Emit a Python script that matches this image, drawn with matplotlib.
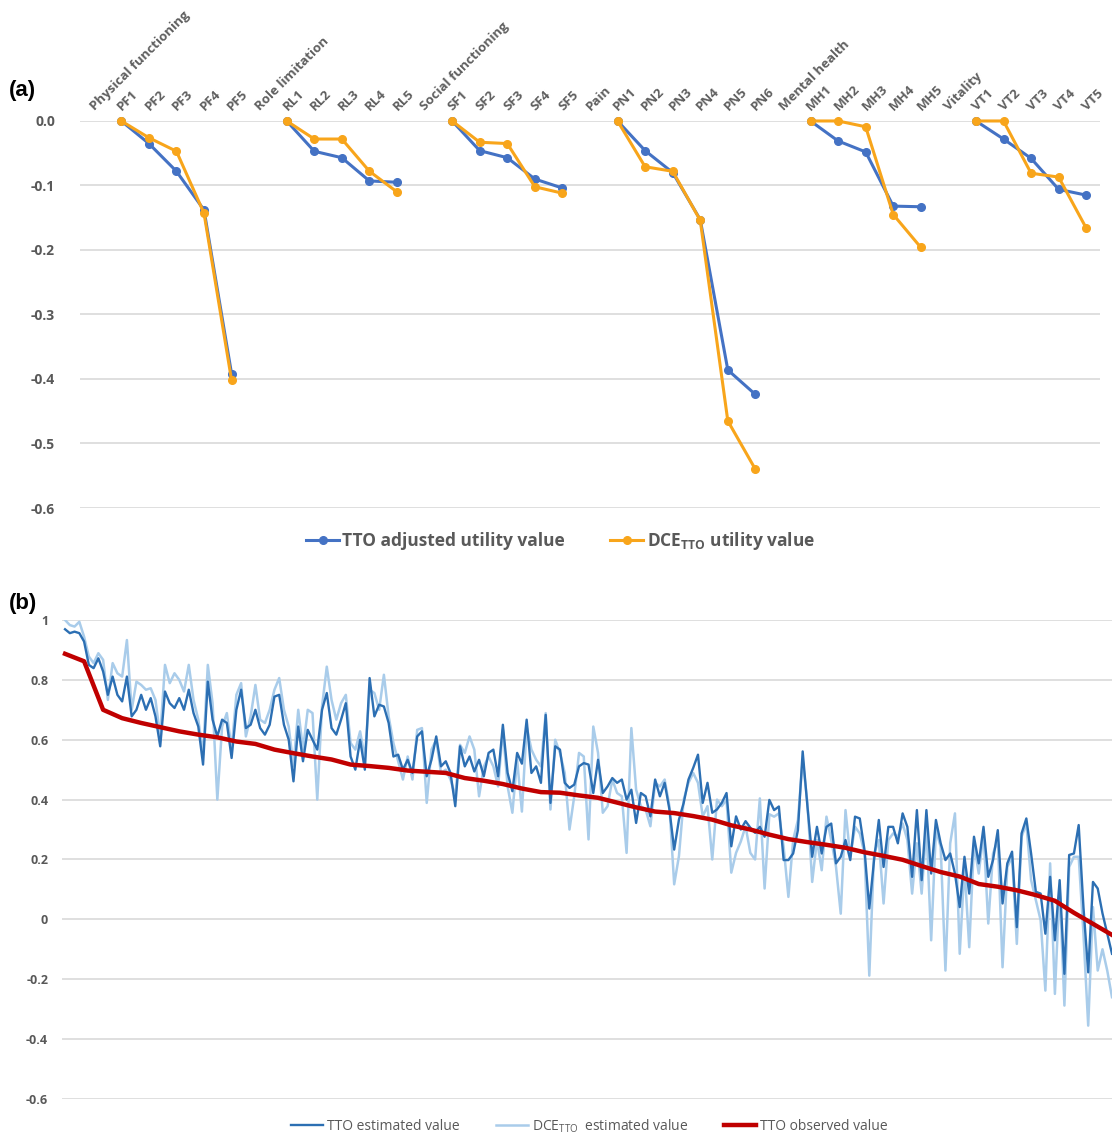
import numpy as np
import matplotlib.pyplot as plt

plt.rcParams['font.family'] = ['Open Sans', 'DejaVu Sans']
plt.rcParams['mathtext.fontset'] = 'custom'
plt.rcParams['mathtext.rm'] = 'Open Sans'
plt.rcParams['mathtext.bf'] = 'Open Sans:bold'

nan = np.nan

# ---- panel (a): utility decrements by dimension level
categories = ["Physical functioning", "PF1", "PF2", "PF3", "PF4", "PF5",
              "Role limitation", "RL1", "RL2", "RL3", "RL4", "RL5",
              "Social functioning", "SF1", "SF2", "SF3", "SF4", "SF5",
              "Pain", "PN1", "PN2", "PN3", "PN4", "PN5", "PN6",
              "Mental health", "MH1", "MH2", "MH3", "MH4", "MH5",
              "Vitality", "VT1", "VT2", "VT3", "VT4", "VT5"]
tto_adjusted = [nan, 0, -0.035, -0.078, -0.138, -0.392,
                nan, 0, -0.047, -0.057, -0.093, -0.095,
                nan, 0, -0.046, -0.057, -0.090, -0.104,
                nan, 0, -0.046, -0.080, -0.153, -0.386, -0.424,
                nan, 0, -0.031, -0.048, -0.132, -0.133,
                nan, 0, -0.028, -0.058, -0.106, -0.115]
dce_tto = [nan, 0, -0.026, -0.047, -0.143, -0.402,
           nan, 0, -0.028, -0.028, -0.078, -0.110,
           nan, 0, -0.033, -0.035, -0.102, -0.112,
           nan, 0, -0.071, -0.078, -0.154, -0.465, -0.540,
           nan, 0, 0, -0.009, -0.145, -0.196,
           nan, 0, 0, -0.081, -0.087, -0.166]
a_ticks = [0.0, -0.1, -0.2, -0.3, -0.4, -0.5, -0.6]

# ---- panel (b): estimated vs observed TTO per health state (sorted by observed)
tto_estimated = [
    0.969, 0.956, 0.961, 0.956, 0.928, 0.85, 0.839, 0.872, 0.828, 0.75,
    0.811, 0.75, 0.728, 0.811, 0.678, 0.70, 0.75, 0.70, 0.739, 0.678,
    0.578, 0.761, 0.722, 0.706, 0.739, 0.70, 0.767, 0.689, 0.644, 0.517,
    0.794, 0.667, 0.611, 0.667, 0.656, 0.539, 0.70, 0.767, 0.639, 0.65,
    0.70, 0.639, 0.617, 0.65, 0.744, 0.75, 0.65, 0.60, 0.461, 0.644,
    0.528, 0.633, 0.60, 0.567, 0.70, 0.756, 0.639, 0.617, 0.667, 0.722,
    0.544, 0.50, 0.60, 0.50, 0.806, 0.678, 0.717, 0.711, 0.656, 0.544,
    0.55, 0.50,
    0.533, 0.489, 0.611, 0.628, 0.478, 0.533, 0.611, 0.511, 0.528, 0.489,
    0.378, 0.578, 0.511, 0.544, 0.494, 0.533, 0.478, 0.556, 0.567, 0.478,
    0.65, 0.489, 0.428, 0.556, 0.52, 0.667, 0.489, 0.511, 0.456, 0.683,
    0.389, 0.578, 0.567, 0.456, 0.439, 0.45, 0.511, 0.522, 0.517, 0.422,
    0.533, 0.422, 0.444, 0.472, 0.456, 0.467, 0.40, 0.433, 0.322, 0.422,
    0.411, 0.344, 0.467, 0.411, 0.456, 0.367, 0.233, 0.333, 0.389, 0.467,
    0.506, 0.55, 0.389, 0.456, 0.356, 0.367, 0.389, 0.422, 0.244, 0.344,
    0.30, 0.328, 0.306, 0.289,
    0.309, 0.276, 0.399, 0.365, 0.377, 0.198, 0.198, 0.22, 0.298, 0.561,
    0.377, 0.209, 0.309, 0.22, 0.309, 0.32, 0.187, 0.209, 0.265, 0.198,
    0.343, 0.337, 0.231, 0.036, 0.198, 0.332, 0.175, 0.309, 0.309, 0.254,
    0.354, 0.309, 0.142, 0.365, 0.131, 0.365, 0.153, 0.332, 0.254, 0.198,
    0.22, 0.153, 0.041, 0.209, 0.086, 0.276, 0.187, 0.309, 0.142, 0.198,
    0.298, 0.053, 0.187, 0.226, -0.026, 0.287, 0.337, 0.22, 0.092, 0.086,
    -0.048, 0.142, -0.07, 0.131, -0.182, 0.215, 0.22, 0.315, 0.041, -0.177,
    0.125, 0.103, 0.02, -0.048, -0.115]
dce_estimated = [
    1.0, 0.983, 0.978, 0.994, 0.944, 0.878, 0.856, 0.889, 0.867, 0.733,
    0.856, 0.822, 0.811, 0.933, 0.70, 0.794, 0.783, 0.767, 0.772, 0.733,
    0.611, 0.85, 0.789, 0.822, 0.80, 0.761, 0.85, 0.733, 0.667, 0.55,
    0.85, 0.722, 0.40, 0.644, 0.689, 0.567, 0.75, 0.789, 0.611, 0.678,
    0.783, 0.667, 0.656, 0.70, 0.767, 0.806, 0.70, 0.644, 0.511, 0.70,
    0.567, 0.70, 0.689, 0.40, 0.711, 0.844, 0.733, 0.667, 0.722, 0.75,
    0.589, 0.567, 0.628, 0.539, 0.767, 0.756, 0.70, 0.817, 0.678, 0.589,
    0.528, 0.467,
    0.544, 0.467, 0.633, 0.639, 0.389, 0.567, 0.60, 0.489, 0.50, 0.467,
    0.411, 0.583, 0.556, 0.611, 0.567, 0.411, 0.511, 0.544, 0.511, 0.444,
    0.633, 0.444, 0.356, 0.533, 0.36, 0.644, 0.567, 0.533, 0.511, 0.689,
    0.367, 0.60, 0.556, 0.489, 0.30, 0.411, 0.556, 0.544, 0.267, 0.644,
    0.556, 0.356, 0.378, 0.467, 0.422, 0.411, 0.222, 0.639, 0.433, 0.378,
    0.367, 0.311, 0.456, 0.444, 0.467, 0.378, 0.117, 0.211, 0.40, 0.456,
    0.489, 0.456, 0.344, 0.378, 0.20, 0.40, 0.378, 0.40, 0.156, 0.222,
    0.26, 0.311, 0.222, 0.20,
    0.404, 0.103, 0.351, 0.343, 0.354, 0.242, 0.075, 0.265, 0.332, 0.533,
    0.388, 0.125, 0.265, 0.164, 0.343, 0.265, 0.176, 0.019, 0.365, 0.209,
    0.309, 0.287, 0.22, -0.188, 0.22, 0.265, 0.053, 0.265, 0.287, 0.276,
    0.32, 0.265, 0.086, 0.254, 0.086, 0.309, -0.07, 0.298, 0.242, -0.171,
    0.254, 0.354, -0.115, 0.175, -0.093, 0.254, 0.153, 0.287, -0.014, 0.22,
    0.265, -0.16, 0.175, 0.209, -0.082, 0.276, 0.32, 0.131, 0.064, -0.003,
    -0.238, 0.187, -0.249, 0.109, -0.288, 0.175, 0.209, 0.209, -0.048, -0.355,
    0.041, -0.171, -0.10, -0.171, -0.26]
# observed TTO, read every 4th state
tto_observed = [
    0.887, 0.862, 0.70, 0.672, 0.656, 0.642, 0.628, 0.617, 0.608, 0.594,
    0.586, 0.567, 0.555, 0.544, 0.534, 0.517, 0.512, 0.506, 0.497, 0.493,
    0.489, 0.472, 0.463, 0.452, 0.437, 0.425, 0.423, 0.414, 0.406, 0.390,
    0.374, 0.360, 0.355, 0.345, 0.333, 0.314, 0.300, 0.283, 0.268, 0.258,
    0.249, 0.239, 0.224, 0.212, 0.199, 0.178, 0.158, 0.143, 0.118, 0.109,
    0.097, 0.081, 0.062, 0.022, -0.015, -0.052]
observed_step = 4
b_ticks = [1, 0.8, 0.6, 0.4, 0.2, 0, -0.2, -0.4, -0.6]

grey_txt = '#595959'
grid_col = '#D9D9D9'

fig = plt.figure(figsize=(11.12, 11.38), dpi=100)

# ================= panel (a)
ax = fig.add_axes([0.0719, 0.5536, 0.9173, 0.3401])
x = np.arange(len(categories))
ax.plot(x, tto_adjusted, color='#4472C4', lw=2.2, marker='o', ms=5.5,
        label='TTO adjusted utility value', clip_on=False, zorder=3)
ax.plot(x, dce_tto, color='#F8A51B', lw=2.2, marker='o', ms=5.5,
        label=r'DCE$_{\mathregular{TTO}}$ utility value', clip_on=False, zorder=4)
ax.set_xlim(-0.5, len(categories) - 0.5)
ax.set_ylim(-0.6, 0.0)
ax.set_yticks(a_ticks)
ax.set_yticklabels([f'{t:.1f}' for t in a_ticks], fontsize=10, fontweight='bold', color=grey_txt)
ax.tick_params(axis='y', length=0, pad=18)
ax.set_xticks([])
ax.grid(axis='y', color=grid_col, lw=1.2)
ax.set_axisbelow(True)
for s in ax.spines.values():
    s.set_visible(False)
for i, lab in enumerate(categories):
    ax.annotate(lab, xy=(i, 0), xytext=(2, 6), textcoords='offset points',
                rotation=45, ha='left', va='bottom', rotation_mode='anchor',
                fontsize=9.5, color='#5f5f5f', fontweight='bold', annotation_clip=False)
fig.legend(*ax.get_legend_handles_labels(), loc='center', ncol=2,
           bbox_to_anchor=(0.504, 0.5246), frameon=False, handlelength=1.9,
           columnspacing=2.6, handletextpad=0.2,
           prop={'size': 12.5, 'weight': 'bold'}, labelcolor=grey_txt)
fig.text(0.008, 0.916, '(a)', fontsize=16, fontweight='bold', family='Liberation Sans')

# ================= panel (b)
bx = fig.add_axes([0.0558, 0.0343, 0.9442, 0.4209])
xb = np.arange(len(tto_estimated))
xo = np.arange(len(tto_observed)) * observed_step
bx.plot(xb, dce_estimated, color='#A9CCEA', lw=1.8, label=r'DCE$_{\mathregular{TTO}}$  estimated value', zorder=2)
bx.plot(xb, tto_estimated, color='#2C6FB3', lw=1.7, label='TTO estimated value', zorder=3)
bx.plot(xo, tto_observed, color='#C00000', lw=3.2, label='TTO observed value', zorder=4)
bx.set_xlim(-0.63, len(tto_estimated) - 1)
bx.set_ylim(-0.6, 1)
bx.set_yticks(b_ticks)
bx.set_yticklabels([f'{t:g}' for t in b_ticks], fontsize=9, fontweight='bold', color=grey_txt)
bx.tick_params(axis='y', length=0, pad=10)
bx.set_xticks([])
bx.grid(axis='y', color=grid_col, lw=1.2)
bx.set_axisbelow(True)
for s in bx.spines.values():
    s.set_visible(False)
h, l = bx.get_legend_handles_labels()
order = [1, 0, 2]
fig.legend([h[k] for k in order], [l[k] for k in order], loc='center', ncol=3,
           bbox_to_anchor=(0.53, 0.0105), frameon=False, handlelength=2.3,
           columnspacing=2.6, handletextpad=0.3, fontsize=10, labelcolor=grey_txt)
fig.text(0.008, 0.465, '(b)', fontsize=16, fontweight='bold', family='Liberation Sans')

fig.savefig('out.png', dpi=100)
